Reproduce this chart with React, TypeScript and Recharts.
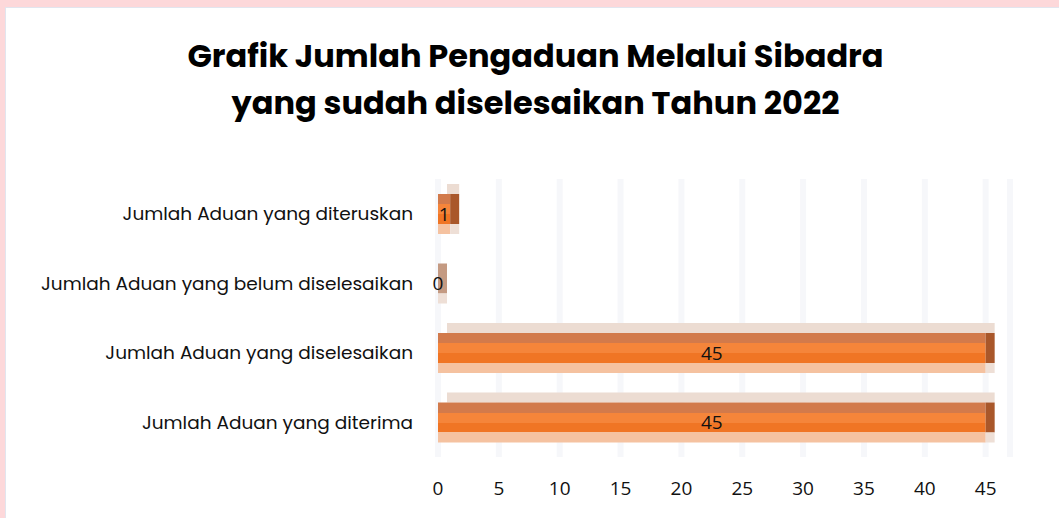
import { BarChart, Bar, XAxis, YAxis, CartesianGrid, LabelList } from 'recharts';

const categories = [
  'Jumlah Aduan yang diteruskan',
  'Jumlah Aduan yang belum diselesaikan',
  'Jumlah Aduan yang diselesaikan',
  'Jumlah Aduan yang diterima',
];
const values = [1, 0, 45, 45];
const xTicks = [0, 5, 10, 15, 20, 25, 30, 35, 40, 45];

const data = categories.map((name, i) => ({ name, v: values[i] }));

function Bar3D(props: any) {
  const { x, y, width, height } = props;
  const w = Math.max(0, width || 0);
  const d = 9;
  return (
    <g>
      <rect x={x + d} y={y - 10} width={w} height={10} fill="#ecdcd2" />
      {w > 0 && <rect x={x} y={y} width={w} height={height} fill="url(#front)" />}
      <rect x={x + w} y={y} width={d} height={height * 0.75} fill={w > 0 ? '#a9572a' : '#c49a82'} />
      <rect x={x + w} y={y + height * 0.75} width={d} height={height * 0.25} fill="#eedfd6" />
    </g>
  );
}

export default function App() {
  return (
    <div style={{ position: 'absolute', left: 0, top: 0, width: 1059, height: 518, background: '#fdd8da', overflow: 'hidden' }}>
      <div style={{ position: 'absolute', left: 5, top: 7, width: 1080, height: 600, background: '#fff', border: '1px solid #e2e5ee' }} />
      <div style={{ position: 'absolute', left: 0, top: 32, width: 1071, textAlign: 'center', fontFamily: 'Poppins, "Open Sans", sans-serif', fontWeight: 700, fontSize: 32, lineHeight: '47px', color: '#000' }}>
        Grafik Jumlah Pengaduan Melalui Sibadra<br />yang sudah diselesaikan Tahun 2022
      </div>
      <div style={{ position: 'absolute', left: 0, top: 0 }}>
        <BarChart width={1059} height={518} data={data} layout="vertical" margin={{ top: 179, right: 49, bottom: 21, left: 0 }} barSize={40}>
          <defs>
            <linearGradient id="front" x1="0" x2="0" y1="0" y2="1">
              <stop offset="0%" stopColor="#d27a4b" />
              <stop offset="25%" stopColor="#d27a4b" />
              <stop offset="25%" stopColor="#f5853a" />
              <stop offset="50%" stopColor="#f5853a" />
              <stop offset="50%" stopColor="#f07524" />
              <stop offset="75%" stopColor="#f07524" />
              <stop offset="75%" stopColor="#f5c2a0" />
              <stop offset="100%" stopColor="#f5c2a0" />
            </linearGradient>
          </defs>
          <CartesianGrid horizontal={false} stroke="#f6f7fa" strokeWidth={6} />
          <XAxis type="number" domain={[0, 47]} ticks={xTicks} axisLine={false} tickLine={false} tickSize={0} tickMargin={25} height={40}
            tick={{ fill: '#111', fontSize: 19, fontFamily: '"Open Sans", sans-serif' }} />
          <YAxis type="category" dataKey="name" width={438} axisLine={false} tickLine={false} tickSize={0} tickMargin={25}
            tick={{ fill: '#111', fontSize: 18.5, fontFamily: 'Poppins, "Noto Sans", sans-serif' }} />
          <Bar dataKey="v" shape={<Bar3D />} isAnimationActive={false}>
            <LabelList dataKey="v" position="center" fill="#111" fontSize={19} fontFamily='"Open Sans", sans-serif' />
          </Bar>
        </BarChart>
      </div>
    </div>
  );
}
